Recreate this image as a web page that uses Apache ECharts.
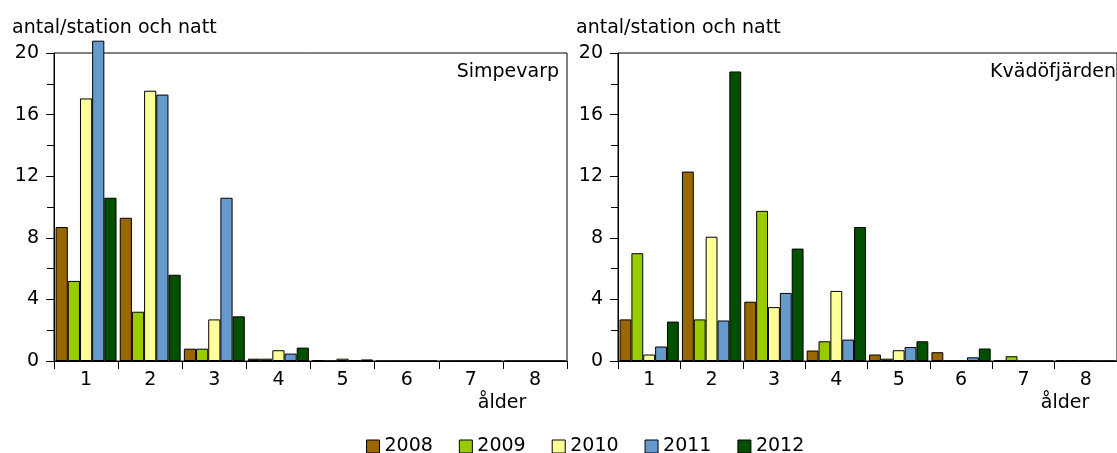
<!DOCTYPE html>
<html lang="sv">
<head>
<meta charset="UTF-8" />
<title>antal/station och natt</title>
<script src="https://cdn.jsdelivr.net/npm/echarts@6/dist/echarts.min.js"></script>
<style>
  html, body { margin: 0; padding: 0; background: #fff; }
  #chart { width: 1117px; height: 453px; }
</style>
</head>
<body>
<div id="chart"></div>
<script>
  // ålder (age classes) on the x axis
  const ages = ['1', '2', '3', '4', '5', '6', '7', '8'];
  const years = ['2008', '2009', '2010', '2011', '2012'];
  const yearColors = ['#996600', '#99cc00', '#ffff99', '#6699cc', '#005000'];
  const yTicks = [0, 4, 8, 12, 16, 20];

  // Simpevarp, antal/station och natt per age
  const simp2008 = [8.7, 9.3, 0.8, 0.15, 0.05, 0, 0, 0];
  const simp2009 = [5.2, 3.2, 0.8, 0.15, 0, 0, 0, 0];
  const simp2010 = [17.05, 17.55, 2.7, 0.7, 0.15, 0, 0, 0];
  const simp2011 = [20.8, 17.3, 10.6, 0.48, 0.05, 0, 0, 0];
  const simp2012 = [10.6, 5.6, 2.9, 0.87, 0.1, 0, 0, 0];

  // Kvädöfjärden
  const kvad2008 = [2.7, 12.3, 3.85, 0.68, 0.42, 0.57, 0.03, 0.03];
  const kvad2009 = [7.0, 2.7, 9.75, 1.28, 0.15, 0.03, 0.31, 0.03];
  const kvad2010 = [0.42, 8.07, 3.5, 4.55, 0.7, 0.03, 0, 0.03];
  const kvad2011 = [0.94, 2.63, 4.42, 1.39, 0.91, 0.24, 0, 0];
  const kvad2012 = [2.56, 18.8, 7.3, 8.7, 1.28, 0.81, 0, 0];

  const simpevarpSeries = [simp2008, simp2009, simp2010, simp2011, simp2012];
  const kvadofjardenSeries = [kvad2008, kvad2009, kvad2010, kvad2011, kvad2012];

  const FONT = '"DejaVu Sans", sans-serif';
  const myChart = echarts.init(document.getElementById('chart'));

  function bars(data, yearIdx, gridIdx) {
    return {
      name: years[yearIdx],
      type: 'bar',
      xAxisIndex: gridIdx,
      yAxisIndex: gridIdx,
      data: data,
      barGap: '0%',
      barCategoryGap: '5%',
      clip: false,
      itemStyle: { color: yearColors[yearIdx], borderColor: '#000', borderWidth: 1 },
      emphasis: { disabled: true }
    };
  }

  function xAxis(gridIdx) {
    return {
      type: 'category',
      gridIndex: gridIdx,
      data: ages,
      axisLine: { lineStyle: { color: '#000', width: 1 } },
      axisTick: { show: true, length: 8, lineStyle: { color: '#000' } },
      axisLabel: { color: '#000', fontSize: 19, fontFamily: FONT, margin: 10 }
    };
  }

  function yAxis(gridIdx) {
    return {
      type: 'value',
      gridIndex: gridIdx,
      min: yTicks[0],
      max: yTicks[yTicks.length - 1],
      interval: yTicks[1] - yTicks[0],
      axisLine: { show: true, lineStyle: { color: '#000', width: 1 } },
      axisTick: { show: true, length: 8, lineStyle: { color: '#000' } },
      minorTick: { show: true, splitNumber: 2, length: 7, lineStyle: { color: '#000' } },
      splitLine: { show: false },
      axisLabel: { color: '#000', fontSize: 19, fontFamily: FONT, margin: 15 }
    };
  }

  function label(text, x, y, align) {
    return {
      type: 'text',
      x: x,
      y: y,
      silent: true,
      style: { text: text, fill: '#000', font: '19px ' + FONT, align: align, verticalAlign: 'middle' }
    };
  }

  const series = [];
  simpevarpSeries.forEach((d, i) => series.push(bars(d, i, 0)));
  kvadofjardenSeries.forEach((d, i) => series.push(bars(d, i, 1)));

  const option = {
    animation: false,
    backgroundColor: '#fff',
    textStyle: { fontFamily: FONT },
    grid: [
      { left: 54, top: 53, width: 513, height: 308, show: true, borderColor: '#000', borderWidth: 1, backgroundColor: 'transparent' },
      { left: 618, top: 53, width: 512, height: 308, show: true, borderColor: '#000', borderWidth: 1, backgroundColor: 'transparent' }
    ],
    xAxis: [xAxis(0), xAxis(1)],
    yAxis: [yAxis(0), yAxis(1)],
    legend: {
      data: years,
      left: 366,
      top: 437,
      padding: 0,
      icon: 'rect',
      itemWidth: 13,
      itemHeight: 13,
      itemGap: 26,
      selectedMode: false,
      itemStyle: { borderColor: '#000', borderWidth: 1 },
      textStyle: { color: '#000', fontSize: 19, fontFamily: FONT }
    },
    graphic: [
      label('antal/station och natt', 12, 28, 'left'),
      label('antal/station och natt', 576, 28, 'left'),
      label('Simpevarp', 559, 72, 'right'),
      label('Kvädöfjärden', 1116, 72, 'right'),
      label('ålder', 502, 403, 'center'),
      label('ålder', 1065, 403, 'center')
    ],
    series: series
  };

  myChart.setOption(option);
</script>
</body>
</html>
